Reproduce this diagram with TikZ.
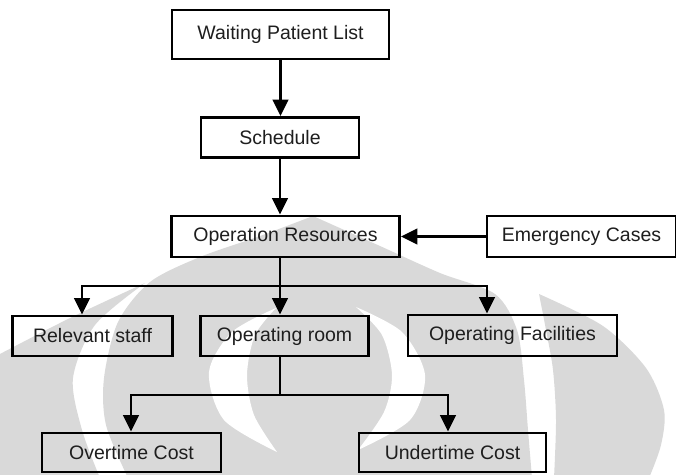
\documentclass[tikz,border=0pt]{standalone}
\usepackage{fontspec}
\setmainfont{Liberation Sans}
\usetikzlibrary{arrows.meta}
\definecolor{wm}{RGB}{217,217,217}
\definecolor{txt}{RGB}{30,30,30}
\begin{document}
\begin{tikzpicture}[x=1pt,y=-1pt,
  box/.style={draw=black, line width=2.9pt, inner sep=0pt, text=txt,
    font=\fontsize{19.5}{22}\selectfont},
  line/.style={draw=black, line width=2.9pt},
  conn/.style={line, -{Triangle[width=15.5pt,length=16.5pt]}}]
\useasboundingbox (0,0) rectangle (676,474);
% watermark
\fill[wm] plot[smooth] coordinates {(-2,355) (70,318) (145,283)}
  -- plot[smooth] coordinates {(145,283) (95,325) (73,378) (82,430) (100,478)}
  -- (-2,478) -- cycle;
\fill[wm] plot[smooth] coordinates {(128,478) (106,425) (104,378) (118,322) (150,282) (200,257) (260,236) (313,216)}
  -- plot[smooth] coordinates {(313,216) (380,246) (440,273) (495,294) (517,330) (524,380) (528,430) (532,478)}
  -- cycle;
\fill[wm] plot[smooth] coordinates {(539,294) (603,326) (646,368) (664,410) (661,445) (649,478)}
  -- (554,478)
  -- plot[smooth] coordinates {(554,478) (556,420) (553,370) (546,330) (539,294)}
  -- cycle;
\fill[white] plot[smooth] coordinates {(276,308) (232,332) (209,372) (224,420) (277,452)}
  -- plot[smooth] coordinates {(277,452) (254,415) (247,375) (255,335) (276,308)}
  -- cycle;
\fill[white] plot[smooth] coordinates {(356,307) (402,332) (425,375) (410,420) (358,450)}
  -- plot[smooth] coordinates {(358,450) (384,412) (392,375) (382,335) (356,307)}
  -- cycle;
% boxes
\node[box, minimum width=217pt, minimum height=49pt] (wpl) at (280.5,34.5) {\raisebox{5pt}{Waiting Patient List}};
\node[box, minimum width=158pt, minimum height=40pt] (sch) at (280,137.5) {Schedule};
\node[box, minimum width=228pt, minimum height=41pt] (opr) at (285.5,236.5) {Operation Resources};
\node[box, minimum width=189pt, minimum height=41pt] (emc) at (581.5,236.5) {Emergency Cases};
\node[box, minimum width=160pt, minimum height=40pt] (rst) at (92.5,336) {Relevant staff};
\node[box, minimum width=168pt, minimum height=40pt] (orm) at (284.5,336) {Operating room};
\node[box, minimum width=209pt, minimum height=41pt] (ofc) at (512.5,335.5) {Operating Facilities};
\node[box, minimum width=179pt, minimum height=39pt] (otc) at (131.5,452.5) {Overtime Cost};
\node[box, minimum width=187pt, minimum height=39pt] (utc) at (452.5,452.5) {Undertime Cost};
% junctions
\coordinate (j1) at (280,286);
\coordinate (b1) at (82,286);
\coordinate (b3) at (487,286);
\coordinate (j2) at (280,395);
\coordinate (c1) at (131,395);
\coordinate (c2) at (448,395);
% connectors
\draw[conn] (wpl.south) -- (wpl.south |- sch.north);
\draw[conn] (sch.south) -- (sch.south |- opr.north);
\draw[conn] (emc.west) -- (opr.east);
\draw[conn] (j1 |- opr.south) -- (j1 |- orm.north);
\draw[conn] (j1) -| (b1 |- rst.north);
\draw[conn] (j1) -| (b3 |- ofc.north);
\draw[line] (j2 |- orm.south) -- (j2);
\draw[conn] (j2) -| (c1 |- otc.north);
\draw[conn] (j2) -| (c2 |- utc.north);
\end{tikzpicture}
\end{document}
